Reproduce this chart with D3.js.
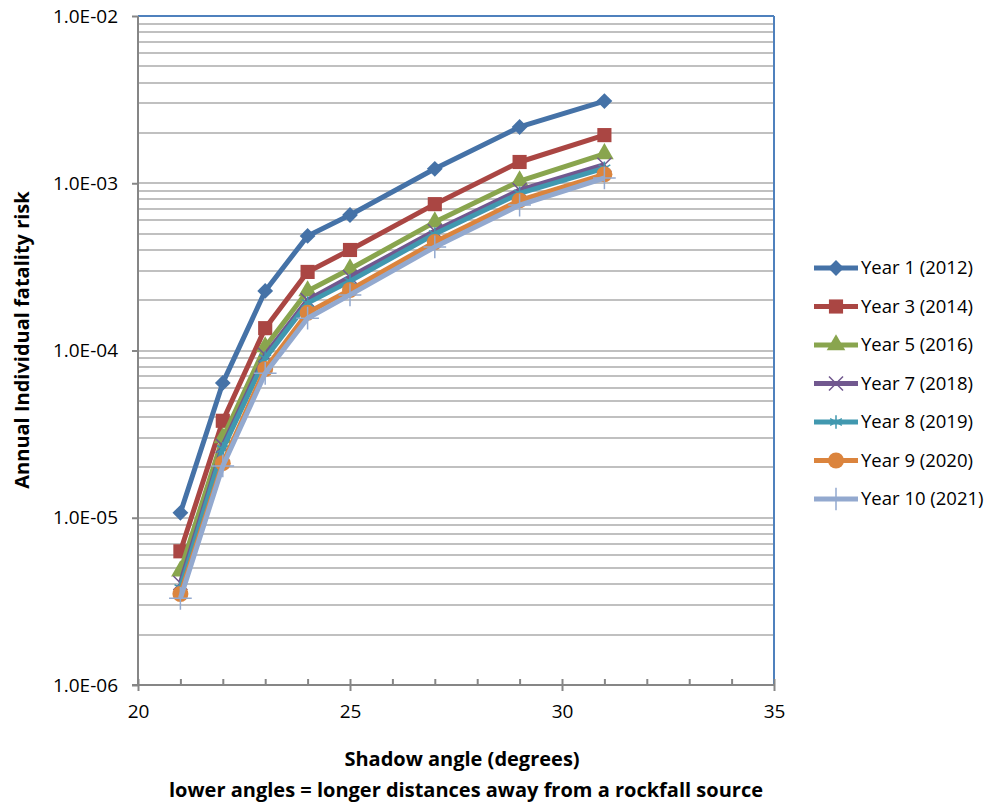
<!DOCTYPE html>
<meta charset="utf-8">
<style>
  body { margin: 0; background: #fff; font-family: "Open Sans", sans-serif; }
  .grid line { stroke: #c0c0c0; stroke-width: 1.5px; shape-rendering: crispEdges; }
  .axis line, .axis path { stroke: #868686; stroke-width: 2px; }
</style>
<body>
<div id="chart"></div>
<script src="https://d3js.org/d3.v7.min.js"></script>
<script>
  // shadow angles (degrees)
  var angles = [21, 22, 23, 24, 25, 27, 29, 31];

  var seriesNames = ["Year 1 (2012)", "Year 3 (2014)", "Year 5 (2016)", "Year 7 (2018)",
    "Year 8 (2019)", "Year 9 (2020)", "Year 10 (2021)"];

  var year1 = [1.07e-5, 6.4e-5, 2.27e-4, 4.84e-4, 6.46e-4, 1.22e-3, 2.17e-3, 3.1e-3];
  var year3 = [6.3e-6, 3.8e-5, 1.36e-4, 2.95e-4, 3.99e-4, 7.5e-4, 1.34e-3, 1.94e-3];
  var year5 = [4.8e-6, 3.0e-5, 1.05e-4, 2.27e-4, 3.07e-4, 5.86e-4, 1.03e-3, 1.5e-3];
  var year7 = [4.07e-6, 2.69e-5, 9.4e-5, 2.0e-4, 2.75e-4, 5.18e-4, 9.1e-4, 1.29e-3];
  var year8 = [3.8e-6, 2.58e-5, 9.0e-5, 1.92e-4, 2.6e-4, 4.97e-4, 8.7e-4, 1.23e-3];
  var year9 = [3.5e-6, 2.12e-5, 7.75e-5, 1.68e-4, 2.3e-4, 4.45e-4, 7.9e-4, 1.13e-3];
  var year10 = [3.3e-6, 2.04e-5, 7.3e-5, 1.56e-4, 2.15e-4, 4.16e-4, 7.4e-4, 1.075e-3];

  var yTickLabels = ["1.0E-06", "1.0E-05", "1.0E-04", "1.0E-03", "1.0E-02"];
  var xTicks = [20, 25, 30, 35];

  var allValues = [year1, year3, year5, year7, year8, year9, year10];
  var colors = ["#4572A7", "#AA4643", "#89A54E", "#71588F", "#4198AF", "#DB843D", "#93A9CF"];
  var symbols = ["diamond", "square", "triangle", "x", "star", "circle", "plus"];

  var fontFam = "'Open Sans', sans-serif";
  var margin = { top: 16, left: 138 };
  var width = 636, height = 669;

  var svg = d3.select("#chart").append("svg")
    .attr("width", 990)
    .attr("height", 805);

  var g = svg.append("g")
    .attr("transform", "translate(" + margin.left + "," + margin.top + ")");

  var xScale = d3.scaleLinear().domain([20, 35]).range([0, width]);
  var yScale = d3.scaleLog().domain([1e-6, 1e-2]).range([height, 0]);

  // gridlines at every 1..9 of each decade
  var gridVals = [];
  for (var e = -6; e < -2; e++) {
    for (var m = 1; m <= 9; m++) gridVals.push(m * Math.pow(10, e));
  }
  gridVals.push(1e-2);

  g.append("g").attr("class", "grid")
    .selectAll("line")
    .data(gridVals.filter(function(d) { return d > 1e-6; }))
    .enter().append("line")
    .attr("x1", 0).attr("x2", width)
    .attr("y1", function(d) { return Math.round(yScale(d)); })
    .attr("y2", function(d) { return Math.round(yScale(d)); });

  // plot area border (top + right blue)
  g.append("line").attr("x1", 0).attr("x2", width).attr("y1", 0).attr("y2", 0)
    .style("stroke", "#4f81bd").style("stroke-width", 2);
  g.append("line").attr("x1", width).attr("x2", width).attr("y1", 0).attr("y2", height)
    .style("stroke", "#4f81bd").style("stroke-width", 2);

  // y axis
  var yAxis = d3.axisLeft(yScale)
    .tickValues([1e-6, 1e-5, 1e-4, 1e-3, 1e-2])
    .tickFormat(function(d, i) { return yTickLabels[i]; })
    .tickSize(6).tickPadding(14);
  var yg = g.append("g").attr("class", "axis").call(yAxis);
  yg.select(".domain").attr("d", "M0,0V" + height);
  yg.selectAll(".tick text")
    .style("font-family", fontFam).style("font-size", "19px").style("fill", "#000");

  // x axis with minor ticks
  var xAxis = d3.axisBottom(xScale)
    .tickValues(d3.range(20, 36, 1))
    .tickFormat(function(d) { return xTicks.indexOf(d) >= 0 ? d : ""; })
    .tickSize(6).tickPadding(14);
  var xg = g.append("g").attr("class", "axis")
    .attr("transform", "translate(0," + height + ")")
    .call(xAxis);
  xg.select(".domain").attr("d", "M-6,0H" + width);
  xg.selectAll(".tick line")
    .attr("y1", -6)
    .attr("y2", function(d) { return xTicks.indexOf(d) >= 0 ? 6 : 0; });
  xg.selectAll(".tick text")
    .attr("y", 20)
    .style("font-family", fontFam).style("font-size", "19px").style("fill", "#000");

  // series
  var line = d3.line()
    .x(function(d, i) { return xScale(angles[i]); })
    .y(function(d) { return yScale(d); });

  var symbolMap = {
    diamond: d3.symbolSquare, square: d3.symbolSquare, triangle: d3.symbolTriangle,
    circle: d3.symbolCircle, x: d3.symbolX, star: d3.symbolAsterisk, plus: d3.symbolPlus
  };
  var symbolSize = { diamond: 125, square: 200, triangle: 150, circle: 200, x: 130, star: 130, plus: 170 };

  function drawMarker(sel, s, c) {
    var filled = ["diamond", "square", "triangle", "circle"].indexOf(s) >= 0;
    var path = sel.append("path")
      .attr("d", d3.symbol().type(symbolMap[s]).size(symbolSize[s])());
    if (s === "diamond") path.attr("transform", "rotate(45)");
    if (filled) {
      path.style("fill", c).style("stroke", "none");
    } else {
      path.style("fill", "none").style("stroke", c).style("stroke-width", 1.5);
    }
  }

  allValues.forEach(function(vals, k) {
    var sg = g.append("g");
    sg.append("path")
      .datum(vals)
      .attr("d", line)
      .style("fill", "none")
      .style("stroke", colors[k])
      .style("stroke-width", 5)
      .style("stroke-linejoin", "round");
    vals.forEach(function(v, i) {
      var mg = sg.append("g")
        .attr("transform", "translate(" + xScale(angles[i]) + "," + yScale(v) + ")");
      drawMarker(mg, symbols[k], colors[k]);
    });
  });

  // legend
  var legend = svg.append("g");
  seriesNames.forEach(function(name, k) {
    var ly = 268 + k * 38.5;
    var lg = legend.append("g").attr("transform", "translate(0," + ly + ")");
    lg.append("line").attr("x1", 814).attr("x2", 858).attr("y1", 0).attr("y2", 0)
      .style("stroke", colors[k]).style("stroke-width", 5);
    var mg = lg.append("g").attr("transform", "translate(836,0)");
    drawMarker(mg, symbols[k], colors[k]);
    lg.append("text").attr("x", 861).attr("y", 0).attr("dy", "0.35em")
      .style("font-family", fontFam).style("font-size", "18.5px").text(name);
  });

  // axis titles
  function title(t) {
    return t.style("font-family", fontFam).style("font-size", "20px")
      .style("font-weight", "bold").attr("text-anchor", "middle");
  }
  title(svg.append("text")
    .attr("transform", "translate(29,340) rotate(-90)"))
    .text("Annual Individual fatality risk");
  title(svg.append("text").attr("x", 462).attr("y", 766))
    .text("Shadow angle (degrees)");
  title(svg.append("text").attr("x", 466).attr("y", 797))
    .text("lower angles = longer distances away from a rockfall source");
</script>
</body>
